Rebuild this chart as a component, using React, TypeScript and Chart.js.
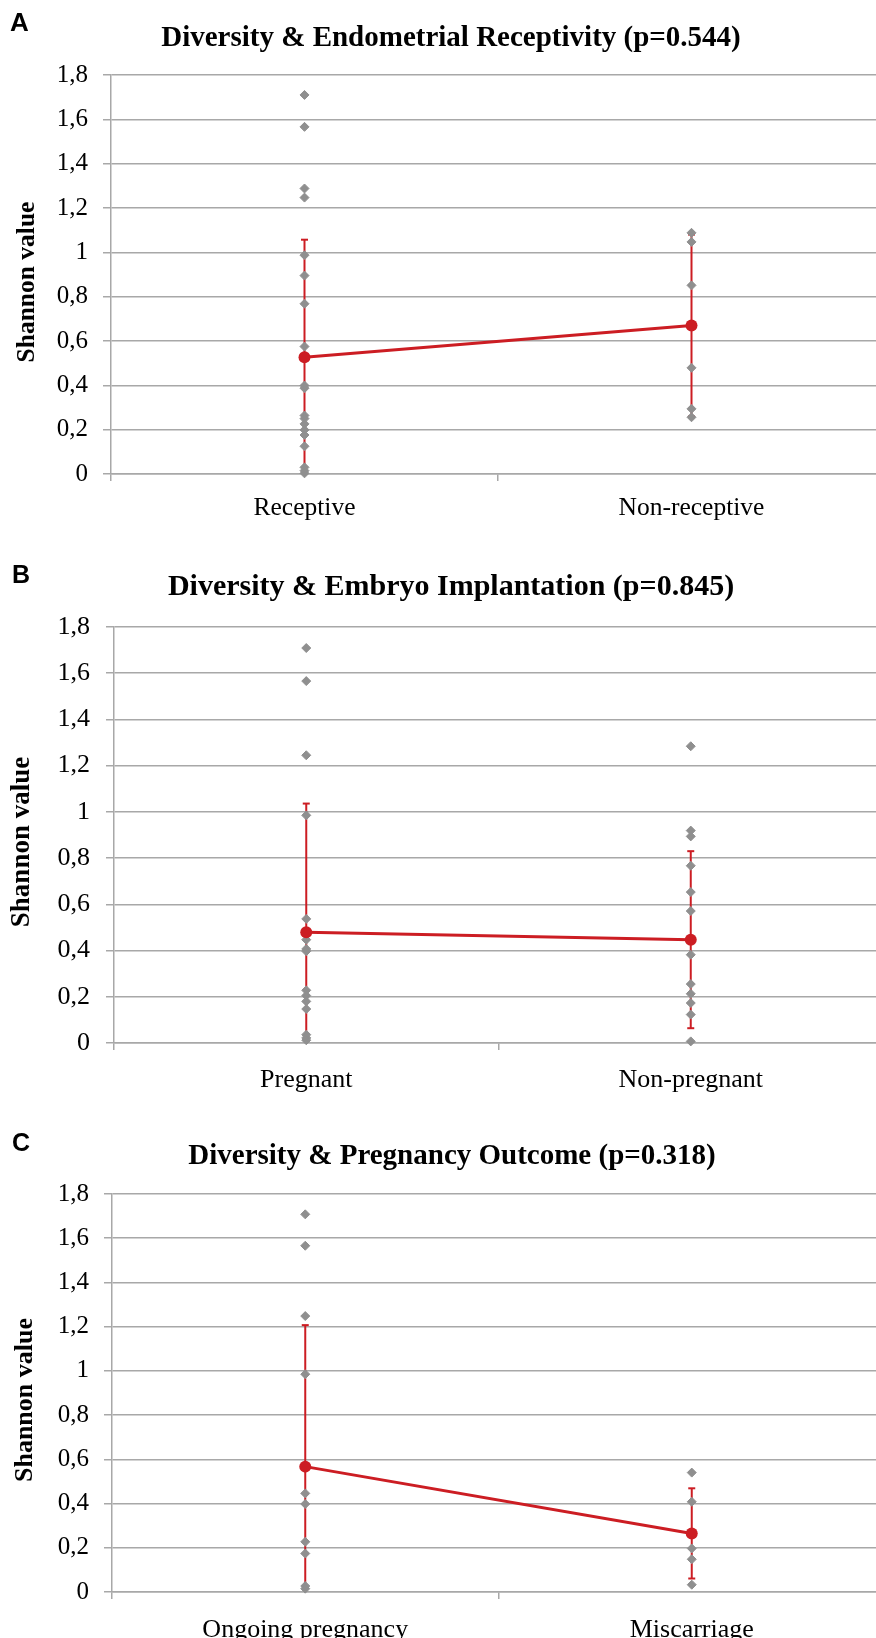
import React, { useEffect, useRef } from 'react';
import { Chart, registerables } from 'chart.js';

Chart.register(...registerables);

// ---------- data ----------
const yTickLabels = ['0', '0,2', '0,4', '0,6', '0,8', '1', '1,2', '1,4', '1,6', '1,8'];
const yAxisTitle = 'Shannon value';

// Panel A
const titleA = 'Diversity & Endometrial Receptivity (p=0.544)';
const categoriesA = ['Receptive', 'Non-receptive'];
const receptiveValues = [1.71, 1.566, 1.288, 1.247, 0.987, 0.895, 0.768, 0.575, 0.399, 0.387, 0.264, 0.25, 0.226, 0.199, 0.176, 0.125, 0.03, 0.015, 0.003];
const nonReceptiveValues = [1.088, 1.047, 0.851, 0.479, 0.294, 0.256];
const meansA = [0.527, 0.67];
const sdA = [0.53, 0.41];

// Panel B
const titleB = 'Diversity & Embryo Implantation (p=0.845)';
const categoriesB = ['Pregnant', 'Non-pregnant'];
const pregnantValues = [1.709, 1.566, 1.245, 0.985, 0.537, 0.447, 0.407, 0.397, 0.228, 0.205, 0.18, 0.147, 0.036, 0.022, 0.012];
const nonPregnantValues = [1.284, 0.919, 0.894, 0.767, 0.653, 0.571, 0.382, 0.255, 0.213, 0.173, 0.123, 0.007];
const meansB = [0.479, 0.447];
const sdB = [0.557, 0.383];

// Panel C
const titleC = 'Diversity & Pregnancy Outcome (p=0.318)';
const categoriesC = ['Ongoing pregnancy', 'Miscarriage'];
const ongoingValues = [1.708, 1.566, 1.248, 0.985, 0.446, 0.398, 0.227, 0.174, 0.027, 0.015];
const miscarriageValues = [0.54, 0.408, 0.197, 0.148, 0.033];
const meansC = [0.567, 0.265];
const sdC = [0.64, 0.204];

// ---------- styles ----------
const RED = '#cc1d23';
const GRAY = '#8f8f8f';
const GRID = '#a8a8a8';
const SERIF = '"Liberation Serif", "Times New Roman", serif';
const SANS = '"Liberation Sans", Arial, sans-serif';
const CANVAS_W = 900;

const panels = [
  {
    letter: 'A', title: titleA, categories: categoriesA, groups: [receptiveValues, nonReceptiveValues], means: meansA, sd: sdA,
    top: 0, height: 540, plotTop: 75, plotBottom: 474, plotLeft: 111, plotRight: 885,
    letterX: 10, letterY: 31, letterSize: 26,
    titleX: 451, titleY: 46, titleSize: 29,
    yLabelX: 26, yLabelY: 282, yLabelSize: 25.5,
    tickSize: 25, tickPad: 15, xLabelSize: 25.5, xLabelPad: 12,
  },
  {
    letter: 'B', title: titleB, categories: categoriesB, groups: [pregnantValues, nonPregnantValues], means: meansB, sd: sdB,
    top: 540, height: 560, plotTop: 87, plotBottom: 503, plotLeft: 114, plotRight: 883,
    letterX: 12, letterY: 43, letterSize: 25,
    titleX: 451, titleY: 54.5, titleSize: 30,
    yLabelX: 20, yLabelY: 302, yLabelSize: 27,
    tickSize: 26, tickPad: 16, xLabelSize: 26, xLabelPad: 14.5,
  },
  {
    letter: 'C', title: titleC, categories: categoriesC, groups: [ongoingValues, miscarriageValues], means: meansC, sd: sdC,
    top: 1100, height: 538, plotTop: 94, plotBottom: 492, plotLeft: 112, plotRight: 885,
    letterX: 12, letterY: 51, letterSize: 25,
    titleX: 452, titleY: 63.5, titleSize: 29,
    yLabelX: 23.5, yLabelY: 300, yLabelSize: 26,
    tickSize: 25, tickPad: 15, xLabelSize: 26, xLabelPad: 16,
  },
];

const panelTextPlugin = {
  id: 'panelText',
  afterDraw(chart: any, _args: any, opts: any) {
    const ctx = chart.ctx;
    ctx.save();
    ctx.fillStyle = '#000';
    ctx.textBaseline = 'alphabetic';
    ctx.font = `bold ${opts.letterSize}px ${SANS}`;
    ctx.textAlign = 'left';
    ctx.fillText(opts.letter, opts.letterX, opts.letterY);
    ctx.font = `bold ${opts.titleSize}px ${SERIF}`;
    ctx.textAlign = 'center';
    ctx.fillText(opts.title, opts.titleX, opts.titleY);
    ctx.translate(opts.yLabelX, opts.yLabelY);
    ctx.rotate(-Math.PI / 2);
    ctx.font = `bold ${opts.yLabelSize}px ${SERIF}`;
    ctx.textAlign = 'center';
    ctx.fillText(opts.yLabel, 0, opts.yLabelSize * 0.33);
    ctx.restore();
  },
};

function buildConfig(p: any) {
  const cats: string[] = p.categories;
  const points: { x: string; y: number }[] = [];
  p.groups.forEach((vals: number[], i: number) => vals.forEach((v) => points.push({ x: cats[i], y: v })));

  const errorDatasets = p.means.map((m: number, i: number) => ({
    type: 'line',
    data: [{ x: cats[i], y: m - p.sd[i] }, { x: cats[i], y: m + p.sd[i] }],
    borderColor: RED,
    borderWidth: 2,
    pointStyle: 'line',
    pointRadius: 3.5,
    pointHoverRadius: 3.5,
    pointBorderWidth: 2,
    pointBorderColor: RED,
    pointBackgroundColor: RED,
    clip: 0,
    order: 3,
  }));

  const scatterDataset = {
    type: 'line',
    data: points,
    showLine: false,
    pointStyle: 'rectRot',
    pointRadius: 4.5,
    pointHoverRadius: 4.5,
    pointBackgroundColor: GRAY,
    pointBorderColor: GRAY,
    pointBorderWidth: 1,
    clip: false,
    order: 2,
  };

  const meanDataset = {
    type: 'line',
    data: p.means,
    borderColor: RED,
    borderWidth: 3,
    pointStyle: 'circle',
    pointRadius: 6,
    pointHoverRadius: 6,
    pointBackgroundColor: RED,
    pointBorderColor: RED,
    pointBorderWidth: 0,
    clip: false,
    order: 1,
  };

  const xAxisHeight = p.height - p.plotBottom;

  return {
    type: 'line',
    data: { labels: cats, datasets: [...errorDatasets, scatterDataset, meanDataset] },
    plugins: [panelTextPlugin],
    options: {
      animation: false,
      responsive: false,
      devicePixelRatio: 1,
      events: [],
      layout: { padding: { top: p.plotTop, right: CANVAS_W - p.plotRight, left: 0, bottom: 0 } },
      plugins: {
        legend: { display: false },
        tooltip: { enabled: false },
        title: { display: false },
        panelText: {
          letter: p.letter, letterX: p.letterX, letterY: p.letterY, letterSize: p.letterSize,
          title: p.title, titleX: p.titleX, titleY: p.titleY, titleSize: p.titleSize,
          yLabel: yAxisTitle, yLabelX: p.yLabelX, yLabelY: p.yLabelY, yLabelSize: p.yLabelSize,
        },
      },
      scales: {
        x: {
          type: 'category',
          labels: cats,
          offset: true,
          grid: { offset: true, drawOnChartArea: false, drawTicks: true, tickLength: 7, color: GRID, lineWidth: 1.5 },
          border: { display: true, color: GRID, width: 1.5 },
          ticks: { font: { family: SERIF, size: p.xLabelSize }, color: '#000', padding: p.xLabelPad, maxRotation: 0, autoSkip: false },
          afterFit: (s: any) => { s.height = xAxisHeight; },
        },
        y: {
          min: 0,
          max: 1.8,
          ticks: {
            stepSize: 0.2,
            callback: (_v: any, i: number) => yTickLabels[i],
            font: { family: SERIF, size: p.tickSize },
            color: '#000',
            padding: p.tickPad,
          },
          grid: { color: GRID, lineWidth: 1.5, tickLength: 8, drawTicks: true },
          border: { display: true, color: GRID, width: 1.5 },
          afterFit: (s: any) => { s.width = p.plotLeft; },
        },
      },
    },
  };
}

function Panel({ p }: { p: any }) {
  const ref = useRef<HTMLCanvasElement | null>(null);
  useEffect(() => {
    if (!ref.current) return;
    const chart = new Chart(ref.current, buildConfig(p) as any);
    return () => chart.destroy();
  }, [p]);
  return (
    <canvas
      ref={ref}
      width={CANVAS_W}
      height={p.height}
      style={{ position: 'absolute', left: 0, top: p.top, width: CANVAS_W, height: p.height, display: 'block' }}
    />
  );
}

export default function App() {
  return (
    <div style={{ position: 'absolute', left: 0, top: 0, width: 876, height: 1638, overflow: 'hidden', background: '#fff' }}>
      {panels.map((p) => (
        <Panel key={p.letter} p={p} />
      ))}
    </div>
  );
}
